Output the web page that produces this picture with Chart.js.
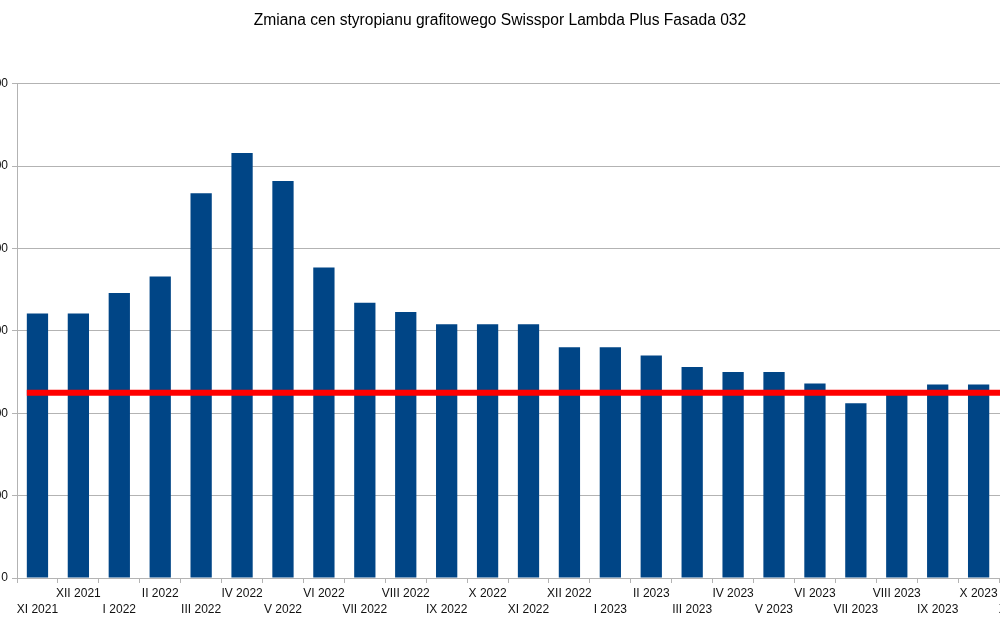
<!DOCTYPE html>
<html>
<head>
<meta charset="utf-8">
<script src="https://cdn.jsdelivr.net/npm/chart.js@4/dist/chart.umd.min.js"></script>
<style>
    html, body { margin: 0; padding: 0; background: #fff; overflow: hidden; }
    #wrap { position: absolute; left: -40px; top: 0; width: 1090px; height: 634px; }
</style>
</head>
<body>
<div id="wrap"><canvas id="chartCeny"></canvas></div>
<script>
var miesiace = ["XI 2021", "XII 2021", "I 2022", "II 2022", "III 2022", "IV 2022", "V 2022", "VI 2022",
    "VII 2022", "VIII 2022", "IX 2022", "X 2022", "XI 2022", "XII 2022", "I 2023", "II 2023",
    "III 2023", "IV 2023", "V 2023", "VI 2023", "VII 2023", "VIII 2023", "IX 2023", "X 2023", "XI 2023"];
var ceny = [321, 321, 346, 366, 467, 516, 482, 377, 334, 323, 308, 308, 308, 280, 280, 270,
    256, 250, 250, 236, 212, 225, 235, 235, 235];
var cenaOdniesienia = 225;
var yMin = 0;
var yMax = 600;
var yStep = 100;

// red horizontal reference line, drawn over the bars
var liniaOdniesienia = {
    id: 'liniaOdniesienia',
    afterDatasetsDraw: function(chart) {
        var meta = chart.getDatasetMeta(0);
        var first = meta.data[0];
        var last = meta.data[meta.data.length - 1];
        var y = chart.scales.y.getPixelForValue(cenaOdniesienia);
        var ctx = chart.ctx;
        ctx.save();
        ctx.strokeStyle = '#ff0000';
        ctx.lineWidth = 6;
        ctx.beginPath();
        ctx.moveTo(first.x - first.width / 2, y);
        ctx.lineTo(last.x + last.width / 2, y);
        ctx.stroke();
        ctx.restore();
    }
};

var chartCeny = new Chart(document.getElementById("chartCeny"), {
    type: 'bar',
    data: {
        labels: miesiace,
        datasets: [{
            label: "Cena",
            backgroundColor: '#004586',
            data: ceny,
            barPercentage: 0.52,
            categoryPercentage: 1.0
        }]
    },
    options: {
        responsive: true,
        maintainAspectRatio: false,
        animation: false,
        layout: { padding: { left: 0, right: 10, top: 0, bottom: 0 } },
        plugins: {
            legend: { display: false },
            tooltip: { enabled: false },
            title: {
                display: true,
                text: 'Zmiana cen styropianu grafitowego Swisspor Lambda Plus Fasada 032',
                color: '#000',
                font: { family: '"Liberation Sans", Arial, sans-serif', size: 15.6, weight: 'normal', lineHeight: 1.2 },
                padding: { top: 11, bottom: 54 }
            }
        },
        scales: {
            x: {
                grid: { display: true, drawOnChartArea: false, drawTicks: true, tickLength: 5, color: '#b3b3b3', offset: true },
                border: { display: true, color: '#b3b3b3' },
                ticks: {
                    autoSkip: false,
                    maxRotation: 0,
                    minRotation: 0,
                    padding: 3,
                    color: '#111',
                    font: { family: '"Liberation Sans", Arial, sans-serif', size: 12, lineHeight: 1.333 },
                    callback: function(value, index) {
                        var txt = miesiace[index];
                        return index % 2 === 0 ? ['', txt] : txt;
                    }
                },
                afterFit: function(scale) { scale.height = 56; }
            },
            y: {
                min: yMin,
                max: yMax,
                grid: { display: true, drawTicks: true, tickLength: 5, color: '#b3b3b3' },
                border: { display: true, color: '#b3b3b3' },
                ticks: {
                    stepSize: yStep,
                    padding: 4,
                    color: '#111',
                    font: { family: '"Liberation Sans", Arial, sans-serif', size: 12 }
                },
                afterFit: function(scale) { scale.width = 57; }
            }
        }
    },
    plugins: [liniaOdniesienia]
});
</script>
</body>
</html>
